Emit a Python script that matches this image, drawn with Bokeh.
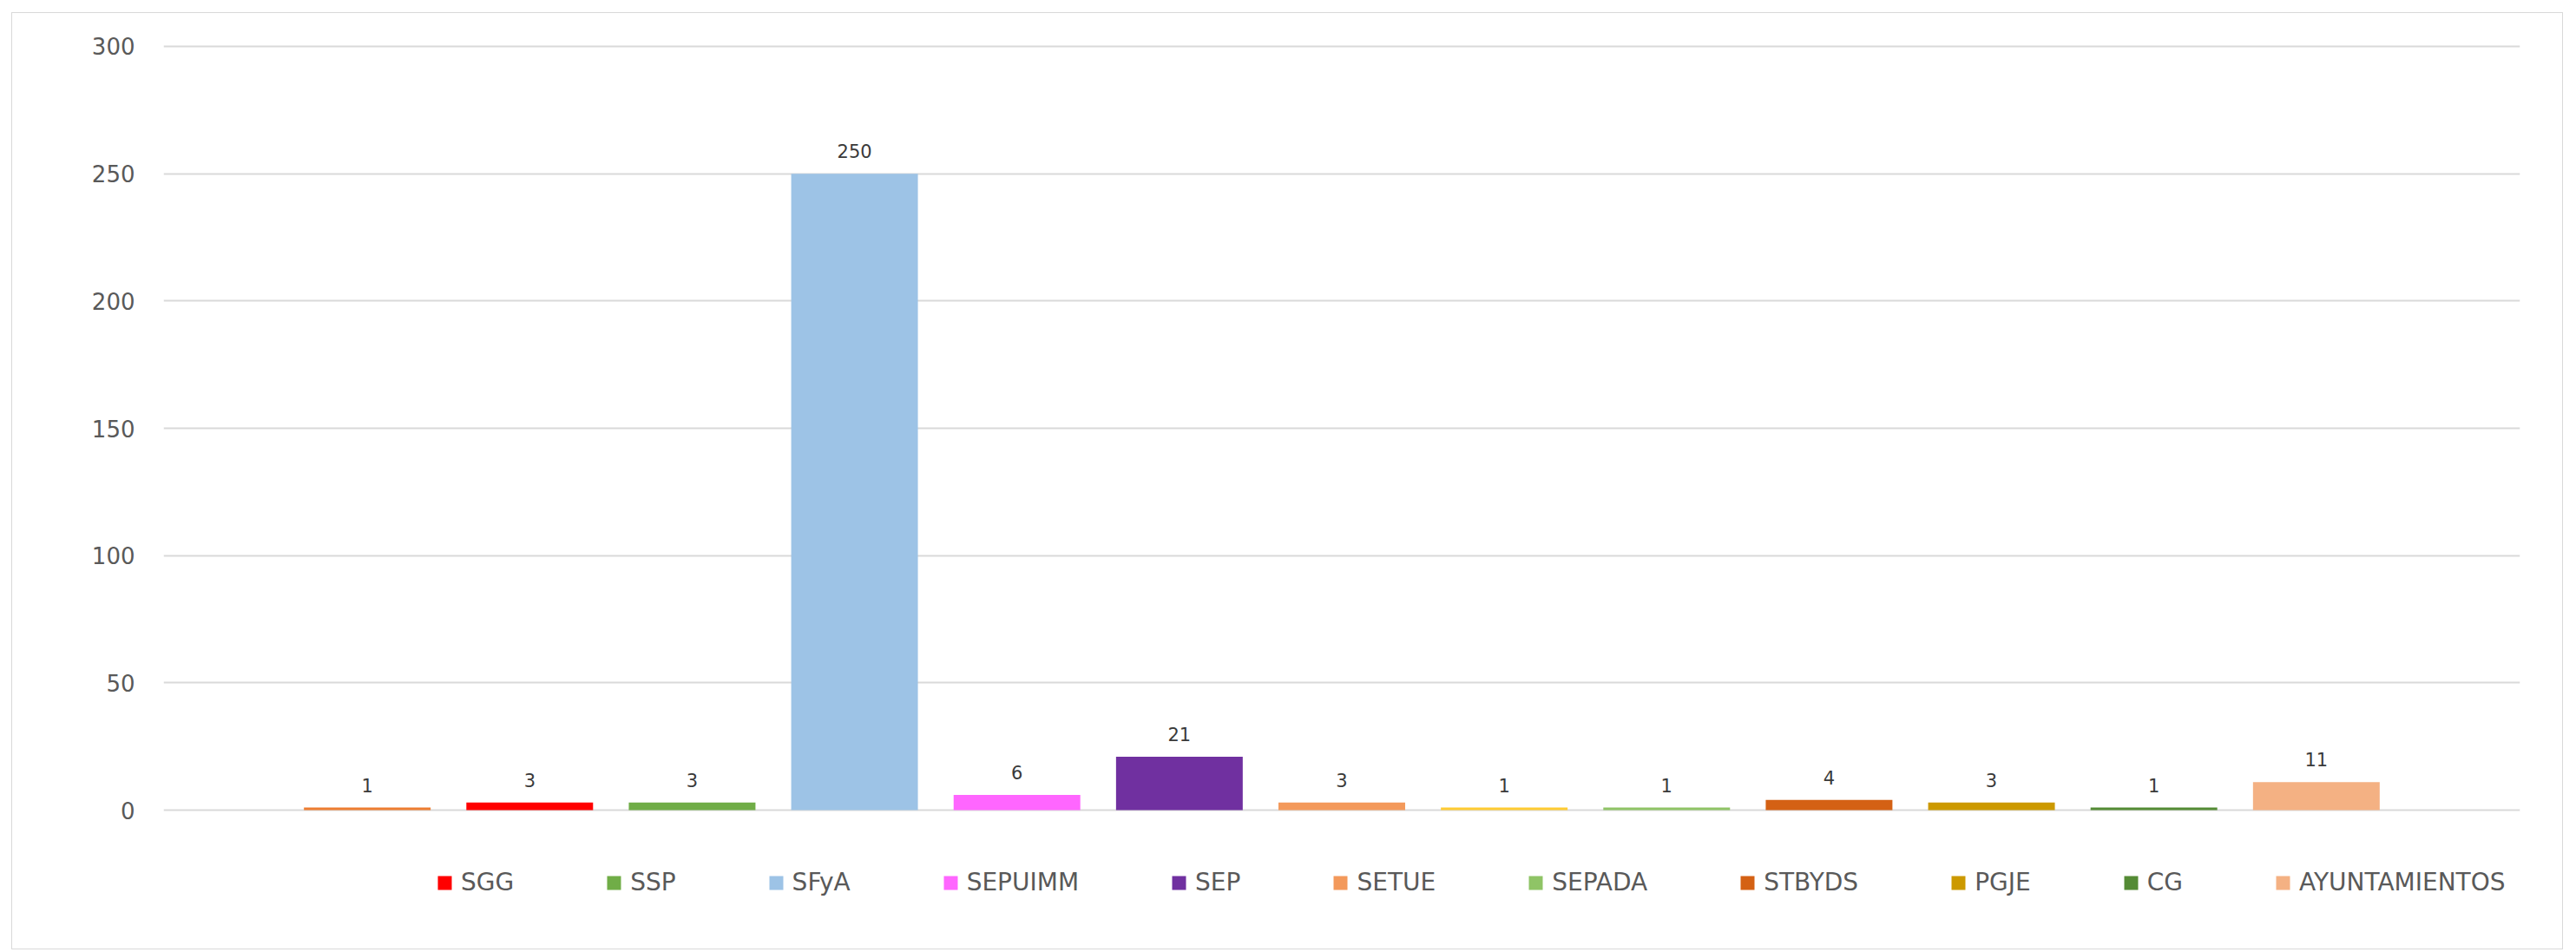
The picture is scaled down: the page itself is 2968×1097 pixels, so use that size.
from bokeh.plotting import figure
from bokeh.models import (FactorRange, Range1d, ColumnDataSource, LabelSet, Legend,
                          LegendItem, FixedTicker)
from bokeh.core.properties import value
from bokeh.embed import file_html
from bokeh.resources import INLINE

# ---- data ----
categories = ["Sin etiqueta 1", "SGG", "SSP", "SFyA", "SEPUIMM", "SEP", "SETUE",
              "Sin etiqueta 2", "SEPADA", "STBYDS", "PGJE", "CG", "AYUNTAMIENTOS"]
values = [1, 3, 3, 250, 6, 21, 3, 1, 1, 4, 3, 1, 11]
colors = ["#ED7D31", "#FF0000", "#70AD47", "#9DC3E6", "#FF66FF", "#7030A0", "#F3995B",
          "#FFCC33", "#8FC466", "#D46114", "#CC9900", "#548B35", "#F4B183"]
legend_labels = ["SGG", "SSP", "SFyA", "SEPUIMM", "SEP", "SETUE", "SEPADA",
                 "STBYDS", "PGJE", "CG", "AYUNTAMIENTOS"]
y_ticks = [0, 50, 100, 150, 200, 250, 300]

FONT = "DejaVu Sans"

src = ColumnDataSource(dict(cat=categories, val=values, col=colors,
                            lab=[str(v) for v in values]))

# the y range reaches below 0 so that the legend can sit inside the frame,
# and a little above 300 so that the top grid line is not clipped
p = figure(x_range=FactorRange(*categories, range_padding=0.116,
                               range_padding_units="percent"),
           y_range=Range1d(-48.4, 300.68),
           width=2940, height=1080,
           output_backend="svg", toolbar_location=None,
           min_border_left=174, min_border_right=51,
           min_border_top=36, min_border_bottom=20,
           background_fill_color="white", border_fill_color="white",
           outline_line_color=None,
           styles={"border": "1px solid #d9d9d9", "position": "relative",
                   "left": "13px", "top": "14px"})

r = p.vbar(x="cat", top="val", width=0.78, source=src,
           fill_color="col", line_color=None)

labels = LabelSet(x="cat", y="val", text="lab", source=src,
                  text_align="center", text_baseline="bottom", y_offset=18,
                  text_font=value(FONT), text_font_size=value("21px"),
                  text_color=value("#3a3a3a"))
p.add_layout(labels)

# axes
p.xaxis.visible = False
p.xgrid.visible = False
p.yaxis.ticker = FixedTicker(ticks=y_ticks)
p.yaxis.axis_line_color = None
p.yaxis.major_tick_line_color = None
p.yaxis.minor_tick_line_color = None
p.yaxis.major_tick_out = 0
p.yaxis.major_label_standoff = 33
p.yaxis.major_label_text_font = FONT
p.yaxis.major_label_text_font_size = "26px"
p.yaxis.major_label_text_color = "#595959"
p.ygrid.ticker = FixedTicker(ticks=y_ticks)
p.ygrid.grid_line_color = "#d9d9d9"
p.ygrid.grid_line_width = 2

# legend (only the labelled bars)
items = []
j = 0
for i, c in enumerate(categories):
    if c.startswith("Sin etiqueta"):
        continue
    items.append(LegendItem(label=legend_labels[j], renderers=[r], index=i))
    j += 1

legend = Legend(items=items, orientation="horizontal", location=(314, 42),
                glyph_width=20, glyph_height=20, label_standoff=9,
                spacing=105, padding=0, margin=0,
                border_line_color=None, background_fill_alpha=0,
                label_text_font=FONT, label_text_font_size="28px",
                label_text_color="#595959")
p.add_layout(legend, "center")

open("out.html", "w").write(file_html(p, INLINE))
